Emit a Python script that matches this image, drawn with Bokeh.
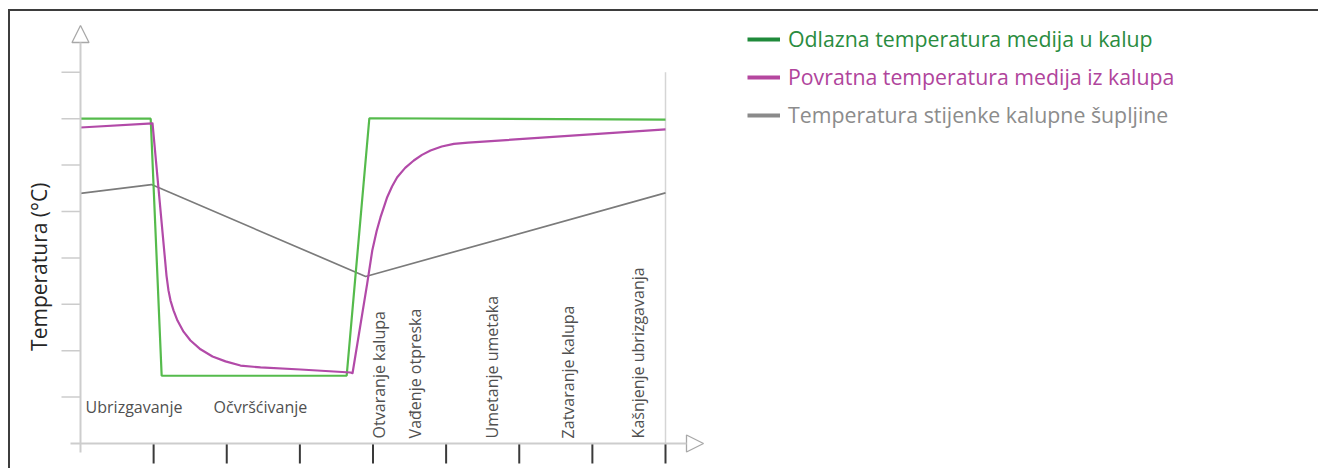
import math
from bokeh.plotting import figure
from bokeh.models import Range1d, Arrow, NormalHead, Label, Legend, LegendItem
from bokeh.core.properties import value
from bokeh.embed import file_html
from bokeh.resources import INLINE

# ---------------- data ----------------
x_ticks = [1, 2, 3, 4, 5, 6, 7, 8]
y_ticks = [1, 2, 3, 4, 5, 6, 7, 8]

supply_x = [0, 0.96, 1.11, 3.64, 3.95, 8.0]
supply_y = [7.0, 7.0, 1.46, 1.46, 7.01, 6.98]

return_x = [0, 0.985, 1.176, 1.203, 1.231, 1.272, 1.326, 1.409, 1.504, 1.641, 1.805,
            1.983, 2.188, 2.462, 3.009, 3.692, 3.72,
            3.92, 3.99, 4.05, 4.103, 4.15, 4.194, 4.26, 4.331, 4.44, 4.558, 4.67,
            4.786, 4.94, 5.105, 5.30, 8.0]
return_y = [6.81, 6.90, 3.62, 3.30, 3.08, 2.87, 2.65, 2.41, 2.22, 2.03, 1.875,
            1.77, 1.68, 1.64, 1.595, 1.53, 1.515,
            3.44, 4.16, 4.58, 4.877, 5.10, 5.308, 5.54, 5.739, 5.94, 6.099, 6.22,
            6.315, 6.40, 6.459, 6.485, 6.77]

wall_x = [0, 0.97, 3.90, 8.0]
wall_y = [5.39, 5.58, 3.60, 5.40]

phase_h_labels = ["Ubrizgavanje", "Očvršćivanje"]
phase_h_x = [0.07, 1.82]
phase_v_labels = ["Otvaranje kalupa", "Vađenje otpreska", "Umetanje umetaka",
                  "Zatvaranje kalupa", "Kašnjenje ubrizgavanja"]
phase_v_x = [4.08, 4.58, 5.63, 6.67, 7.63]

series_names = ["Odlazna temperatura medija u kalup",
                "Povratna temperatura medija iz kalupa",
                "Temperatura stijenke kalupne šupljine"]
y_label = "Temperatura (°C)"

# ---------------- layout constants (page pixels) ----------------
FONT = "Open Sans"
W, H = 1310, 459
CONTENT_X, CONTENT_Y = 10, 11      # page position of figure content (after margin + border)
ORIGIN_X, ORIGIN_Y = 80, 443       # page position of the axes origin
PX_X = 73.125                      # px per x unit
PX_Y = 46.4                        # px per y unit

x_start = (CONTENT_X - ORIGIN_X) / PX_X
x_end = (CONTENT_X + W - ORIGIN_X) / PX_X
y_end = (ORIGIN_Y - CONTENT_Y) / PX_Y
y_start = (ORIGIN_Y - (CONTENT_Y + H)) / PX_Y

p = figure(width=W, height=H, output_backend="svg", toolbar_location=None,
           x_range=Range1d(x_start, x_end), y_range=Range1d(y_start, y_end),
           min_border=0, title=None)
p.styles = {"margin-left": "8px", "margin-top": "9px",
            "border-top": "2px solid #3d3d3d", "border-left": "2px solid #3d3d3d"}
p.axis.visible = False
p.grid.visible = False
p.outline_line_color = None
p.background_fill_color = "white"
p.border_fill_color = "white"

# ticks
n_x, n_y = len(x_ticks), len(y_ticks)
p.segment(x0=x_ticks, y0=[0] * n_x, x1=x_ticks, y1=[-20 / PX_Y] * n_x,
          line_color="#3a3a3a", line_width=2)
p.segment(x0=[0] * n_y, y0=y_ticks, x1=[-19 / PX_X] * n_y, y1=y_ticks,
          line_color="#cccccc", line_width=1.5)

# right boundary line at last tick
p.segment(x0=[x_ticks[-1]], y0=[0], x1=[x_ticks[-1]], y1=[y_ticks[-1]],
          line_color="#d5d5d5", line_width=1.5)

# axis lines with hollow arrow heads
p.add_layout(Arrow(end=NormalHead(size=17, fill_color="white", line_color="#a8a8a8", line_width=1.3),
                   x_start=0, y_start=-9 / PX_Y, x_end=0, y_end=(ORIGIN_Y - 25) / PX_Y,
                   line_color="#cdcdcd", line_width=2))
p.add_layout(Arrow(end=NormalHead(size=17, fill_color="white", line_color="#a8a8a8", line_width=1.3),
                   x_start=-10 / PX_X, y_start=0, x_end=(703 - ORIGIN_X) / PX_X, y_end=0,
                   line_color="#cdcdcd", line_width=2))

# series
p.line(wall_x, wall_y, line_color="#7b7b7b", line_width=1.7)
p.line(supply_x, supply_y, line_color="#55bb4c", line_width=2.2)
p.line(return_x, return_y, line_color="#b24aa8", line_width=2.2, line_join="round")

# phase labels
p.text(x=phase_h_x, y=[0.78] * len(phase_h_x), text=phase_h_labels,
       text_font=value(FONT), text_font_size="16px", text_color="#505050",
       text_align="left", text_baseline="middle")
p.text(x=phase_v_x, y=[0.11] * len(phase_v_x), text=phase_v_labels, angle=math.pi / 2,
       text_font=value(FONT), text_font_size="16px", text_color="#505050",
       text_align="left", text_baseline="middle")

# y axis label
p.add_layout(Label(x=-0.574, y=3.81, text=y_label, angle=math.pi / 2,
                   text_font=FONT, text_font_size="21px", text_color="#262626",
                   text_align="center", text_baseline="middle"))

# legends (one per entry so each label has its own colour)
leg_colors = ["#1f8a3b", "#b5479f", "#8a8a8a"]
leg_text_colors = ["#2a8c40", "#b0449c", "#8c8c8c"]
leg_centers = [40, 78, 116]        # page y of each entry
for name, lc, tc, yc in zip(series_names, leg_colors, leg_text_colors, leg_centers):
    r = p.line(x=[float("nan")], y=[float("nan")], line_color=lc, line_width=4)
    bottom = (CONTENT_Y + H) - (yc + 13)
    lg = Legend(items=[LegendItem(label=name, renderers=[r])], location=(747 - CONTENT_X, bottom),
                label_text_font=FONT, label_text_font_size="21.3px", label_text_color=tc,
                glyph_width=33, glyph_height=26, label_height=26, label_standoff=8,
                padding=0, margin=0, spacing=0, border_line_color=None,
                background_fill_alpha=0)
    p.add_layout(lg, "center")

open("out.html", "w").write(file_html(p, INLINE))
